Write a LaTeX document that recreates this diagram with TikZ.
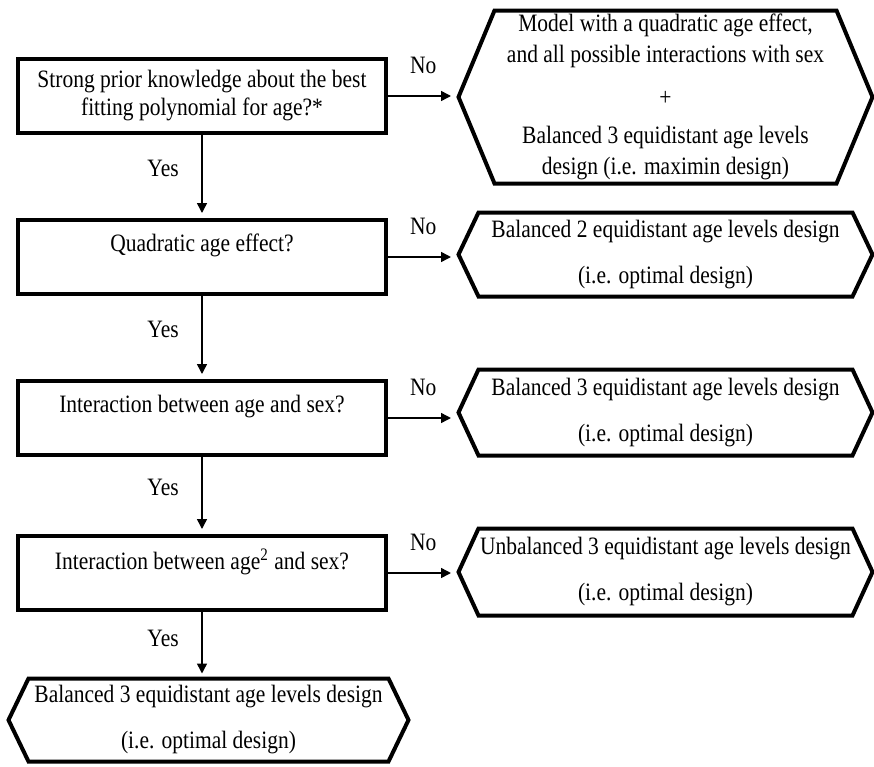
\documentclass[tikz,border=0pt]{standalone}
\usepackage{fontspec}
\setmainfont{Liberation Serif}[FakeStretch=0.86]
\usetikzlibrary{arrows.meta}

\tikzset{
	qbox/.style={draw, line width=1.6pt, minimum width=147.2pt, minimum height=29.6pt, align=center, inner sep=0pt},
	hexbox/.style={align=center, inner sep=0pt, minimum width=165.2pt},
	hexline/.style={line width=1.6pt},
	arr/.style={line width=0.6pt, -{Triangle[length=4pt,width=4pt]}, shorten >=2pt},
	lbl/.style={inner sep=1pt}
}

\begin{document}
	\begin{tikzpicture}[x=0.4pt, y=-0.4pt, every node/.style={font=\fontsize{10pt}{11.2pt}\selectfont}]
		\useasboundingbox (0,0) rectangle (874,767);
		
		% questions
		\node[qbox] (q1) at (202,96) {Strong prior knowledge about the best\\fitting polynomial for age?*};
		\node[qbox] (q2) at (202,257) {Quadratic age effect?\\ \mbox{}};
		\node[qbox] (q3) at (202,418) {Interaction between age and sex?\\ \mbox{}};
		\node[qbox] (q4) at (202,573) {Interaction between age\textsuperscript{2} and sex?\\ \mbox{}};
		
		% designs
		\node[hexbox, minimum height=68.8pt] (r1) at (665.5,97) {Model with a quadratic age effect,\\[1.2pt] and all possible interactions with sex\\[6pt] +\\[4pt] Balanced 3 equidistant age levels\\[1pt] design (i.e. maximin design)};
		\node[hexbox, minimum height=33.2pt] (r2) at (665.5,254.5) {Balanced 2 equidistant age levels design\\[7.2pt] (i.e. optimal design)};
		\node[hexbox, minimum height=34pt] (r3) at (665.5,412.5) {Balanced 3 equidistant age levels design\\[7.2pt] (i.e. optimal design)};
		\node[hexbox, minimum height=34.4pt] (r4) at (665.5,572) {Unbalanced 3 equidistant age levels design\\[7.2pt] (i.e. optimal design)};
		\node[hexbox, minimum width=159.6pt, minimum height=32.8pt] (b5) at (208.5,720) {Balanced 3 equidistant age levels design\\[7.2pt] (i.e. optimal design)};
		
		\foreach \n/\d in {r1/14.4pt, r2/8pt, r3/8pt, r4/8pt, b5/8pt}
		{
			\draw[hexline] ([xshift=\d]\n.north west) -- ([xshift=-\d]\n.north east) -- (\n.east) -- ([xshift=-\d]\n.south east) -- ([xshift=\d]\n.south west) -- (\n.west) -- cycle;
		}
		
		% yes
		\draw[arr] (q1) -- node[lbl, pos=0.4, left=8pt] (y1) {Yes} (q2);
		\draw[arr] (q2) -- node[lbl, pos=0.4, left=8pt] (y2) {Yes} (q3);
		\draw[arr] (q3) -- node[lbl, pos=0.4, left=8pt] (y3) {Yes} (q4);
		\draw[arr] (q4.south) -- node[lbl, pos=0.4, left=8pt] (y4) {Yes} (q4.south |- b5.north);
		
		% no
		\foreach \a/\b in {q1/r1, q2/r2, q3/r3, q4/r4}
		{
			\draw[arr, shorten >=3pt] (\a.east) -- node[lbl, above=7.5pt] (no\a) {No} (\a.east -| \b.west);
		}
	\end{tikzpicture}
\end{document}
